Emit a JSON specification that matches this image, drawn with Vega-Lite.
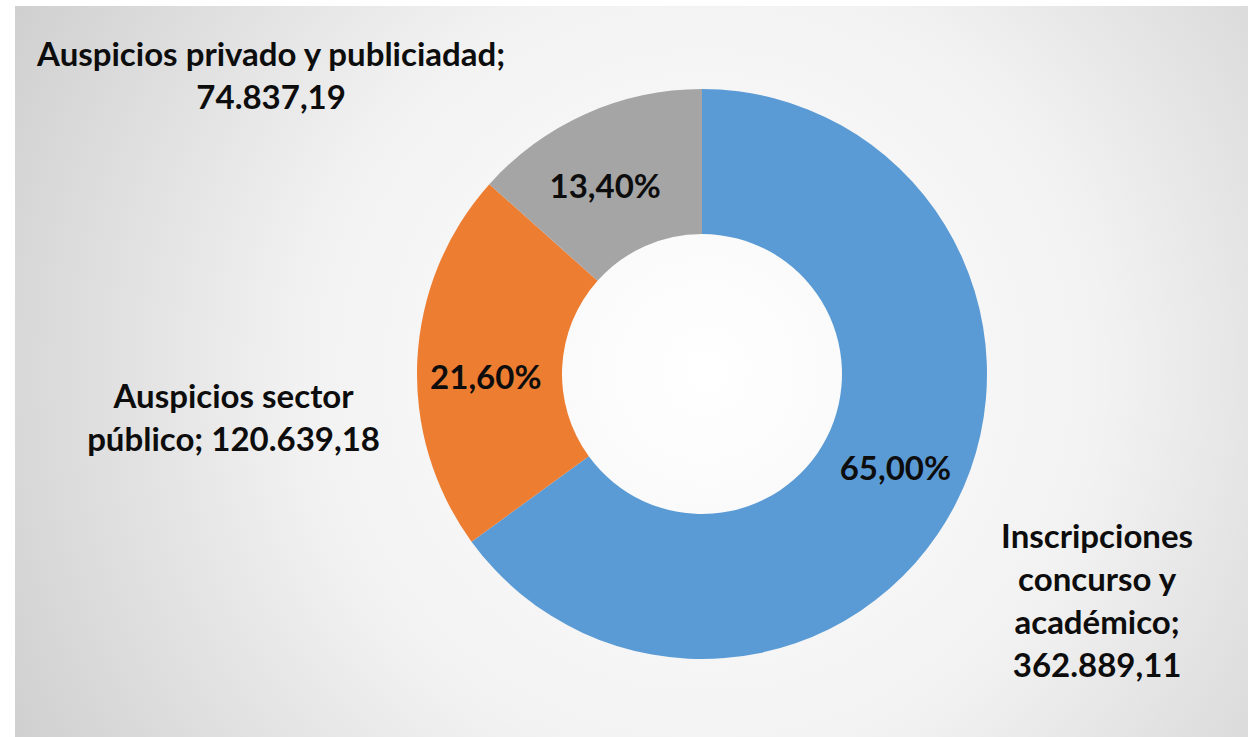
{
  "$schema": "https://vega.github.io/schema/vega-lite/v6.json",
  "width": 1233,
  "height": 731,
  "autosize": {"type": "none"},
  "padding": {"left": 15, "top": 6, "right": 0, "bottom": 0},
  "background": "#ffffff",
  "config": {
    "view": {"stroke": null},
    "locale": {"number": {"decimal": ",", "thousands": ".", "grouping": [3], "currency": ["", " €"]}},
    "text": {"font": "Lato", "fontWeight": "bold", "fontSize": 33, "color": "#0d0d0d", "lineHeight": 43, "lineBreak": "\n"}
  },
  "layer": [
    {
      "data": {"values": [{"bg": 1}]},
      "mark": {
        "type": "rect",
        "fill": {
          "gradient": "radial",
          "x1": 0.56, "y1": 0.5, "r1": 0,
          "x2": 0.56, "y2": 0.5, "r2": 0.72,
          "stops": [
            {"offset": 0, "color": "#ffffff"},
            {"offset": 0.45, "color": "#f2f2f2"},
            {"offset": 1, "color": "#c6c6c6"}
          ]
        }
      },
      "encoding": {}
    },
    {
      "data": {
        "values": [
          {"category": "Inscripciones concurso y académico", "value": 362889.11, "pct": 0.65, "order": 1, "label": "Inscripciones\nconcurso y\nacadémico;\n362.889,11"},
          {"category": "Auspicios sector público", "value": 120639.18, "pct": 0.216, "order": 2, "label": "Auspicios sector\npúblico;  120.639,18"},
          {"category": "Auspicios privado y publiciadad", "value": 74837.19, "pct": 0.134, "order": 3, "label": "Auspicios privado y publiciadad;\n74.837,19"}
        ]
      },
      "encoding": {
        "theta": {"field": "value", "type": "quantitative", "stack": true},
        "order": {"field": "order", "type": "quantitative", "sort": "ascending"}
      },
      "layer": [
        {
          "mark": {"type": "arc", "innerRadius": 140, "outerRadius": 285, "x": {"expr": "width/2+70.5"}, "y": {"expr": "height/2+2.5"}},
          "encoding": {
            "color": {
              "field": "category", "type": "nominal",
              "scale": {"domain": ["Inscripciones concurso y académico", "Auspicios sector público", "Auspicios privado y publiciadad"], "range": ["#5b9bd5", "#ed7d31", "#a5a5a5"]},
              "legend": null
            }
          }
        },
        {
          "mark": {"type": "text", "radius": 212.5, "dx": 4, "dy": 0, "x": {"expr": "width/2+70.5"}, "y": {"expr": "height/2+2.5"}},
          "encoding": {"text": {"condition": {"test": "datum.order == 1", "field": "pct", "format": ".2%"}, "value": ""}}
        },
        {
          "mark": {"type": "text", "radius": 212.5, "dx": -4, "dy": 16, "x": {"expr": "width/2+70.5"}, "y": {"expr": "height/2+2.5"}},
          "encoding": {"text": {"condition": {"test": "datum.order == 2", "field": "pct", "format": ".2%"}, "value": ""}}
        },
        {
          "mark": {"type": "text", "radius": 212.5, "dx": -10, "dy": 8, "x": {"expr": "width/2+70.5"}, "y": {"expr": "height/2+2.5"}},
          "encoding": {"text": {"condition": {"test": "datum.order == 3", "field": "pct", "format": ".2%"}, "value": ""}}
        },
        {
          "mark": {"type": "text", "radius": 440, "dx": 3, "dy": -36, "x": {"expr": "width/2+70.5"}, "y": {"expr": "height/2+2.5"}},
          "encoding": {"text": {"condition": {"test": "datum.order == 1", "field": "label"}, "value": ""}}
        },
        {
          "mark": {"type": "text", "radius": 440, "dx": -29, "dy": 46, "x": {"expr": "width/2+70.5"}, "y": {"expr": "height/2+2.5"}},
          "encoding": {"text": {"condition": {"test": "datum.order == 2", "field": "label"}, "value": ""}}
        },
        {
          "mark": {"type": "text", "radius": 330, "dx": -296, "dy": -17, "x": {"expr": "width/2+70.5"}, "y": {"expr": "height/2+2.5"}},
          "encoding": {"text": {"condition": {"test": "datum.order == 3", "field": "label"}, "value": ""}}
        }
      ]
    }
  ]
}
